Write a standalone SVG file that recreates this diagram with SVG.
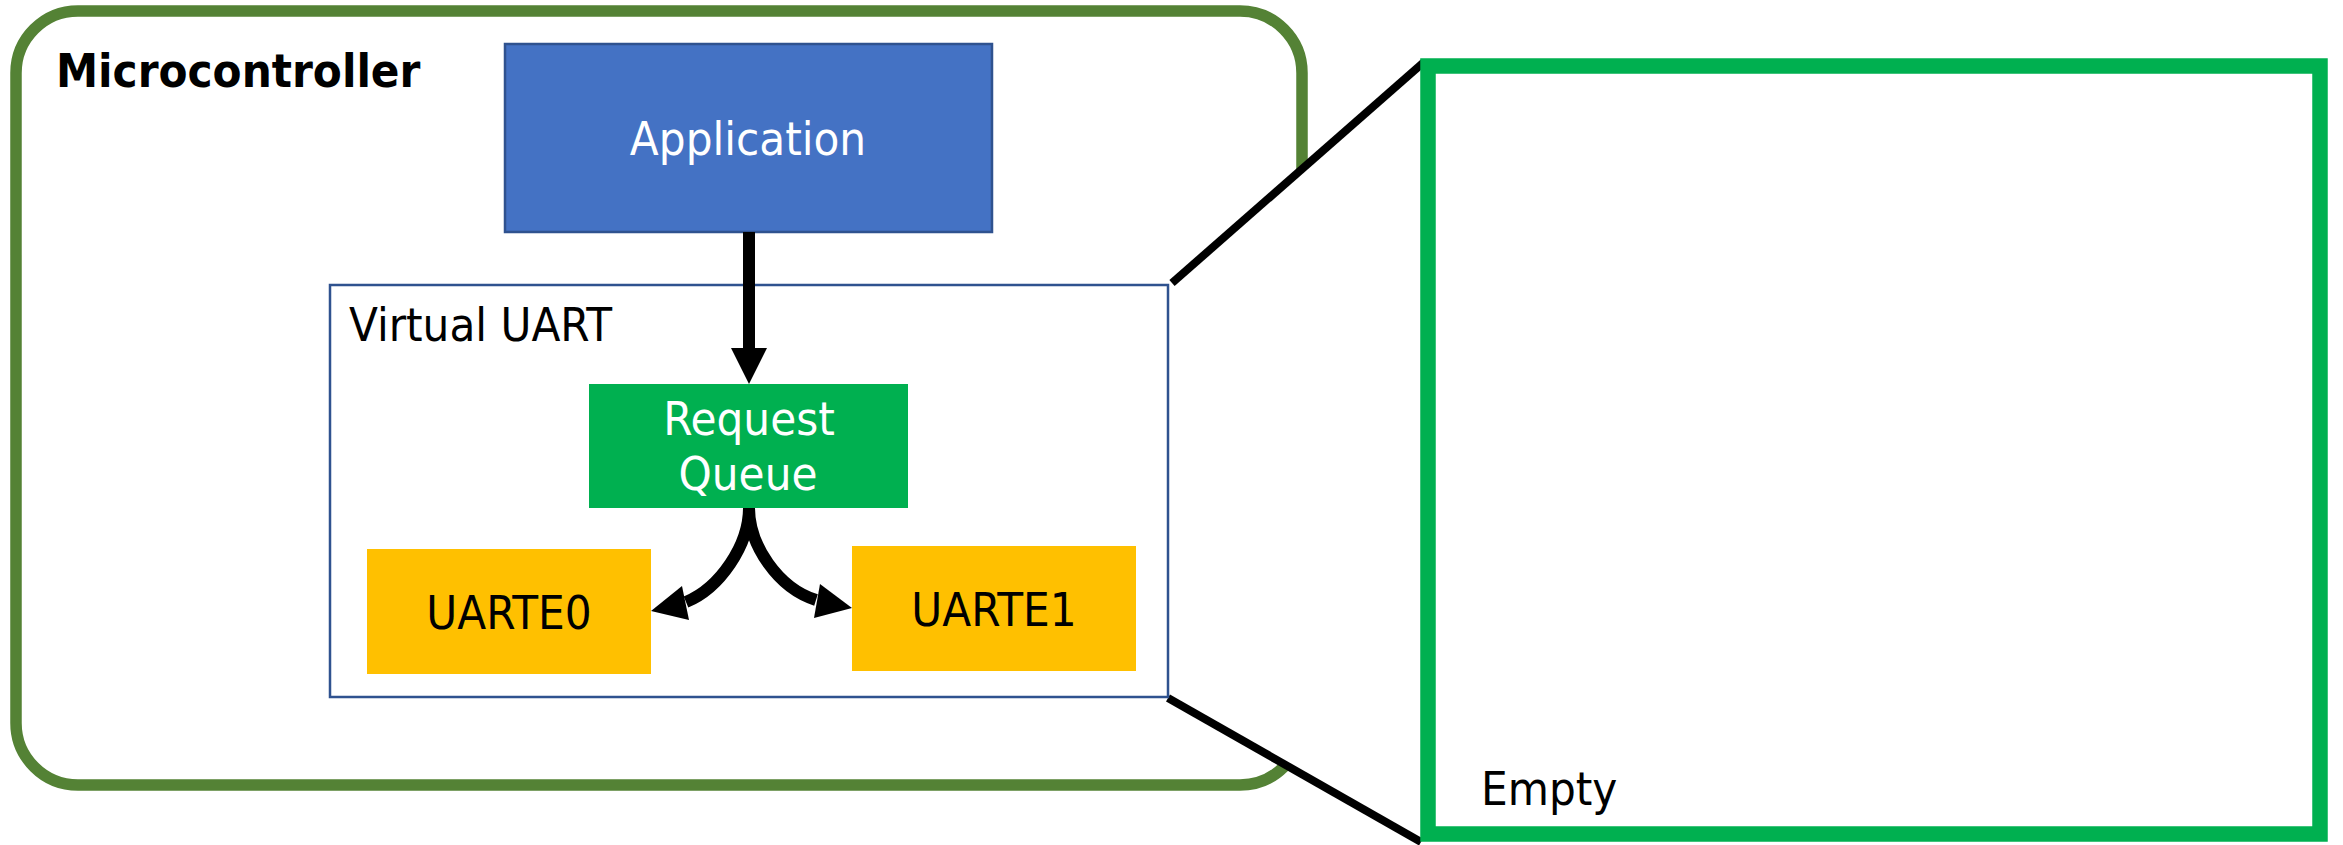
<svg xmlns="http://www.w3.org/2000/svg" width="2343" height="845" viewBox="0 0 2343 845">
  <style>
    .t { font-family: "DejaVu Sans Condensed", "DejaVu Sans", Verdana, sans-serif; font-size: 47px; }
    .w { fill: #FFFFFF; }
    .k { fill: #000000; }
    .c { text-anchor: middle; }
    .conn { fill: none; stroke: #000000; stroke-width: 12; }
    .zoom { fill: none; stroke: #000000; stroke-width: 8; }
  </style>
  <defs>
    <marker id="arrow" viewBox="0 0 3 3" refX="0" refY="1.5" markerWidth="3" markerHeight="3" markerUnits="strokeWidth" orient="auto">
      <path d="M0,0 L3,1.5 L0,3 Z" fill="#000000"/>
    </marker>
  </defs>
  <rect width="2343" height="845" fill="#FFFFFF"/>

  <g id="microcontroller">
    <rect x="16" y="11" width="1286" height="774" rx="62" ry="62" fill="#FFFFFF" stroke="#548235" stroke-width="11.5"/>
    <text class="t k" x="56" y="87" font-weight="bold">Microcontroller</text>
  </g>

  <g id="zoom-lens">
    <polygon points="1172,283 1424,62 1422,842 1168,698" fill="#FFFFFF"/>
    <line class="zoom" x1="1172" y1="283" x2="1424" y2="62"/>
    <line class="zoom" x1="1168" y1="698" x2="1421" y2="842"/>
  </g>

  <g id="application">
    <rect x="505" y="44" width="487" height="188" fill="#4472C4" stroke="#2F528F" stroke-width="2.5"/>
    <text class="t w c" x="748" y="155">Application</text>
  </g>

  <g id="virtual-uart">
    <rect x="330" y="285" width="838" height="412" fill="#FFFFFF" stroke="#2F528F" stroke-width="2.5"/>
    <text class="t k" x="349" y="341">Virtual UART</text>
  </g>

  <g id="request-queue">
    <rect x="589" y="384" width="319" height="124" fill="#00B050"/>
    <text class="t w c" x="749" y="435">Request</text>
    <text class="t w c" x="748" y="490">Queue</text>
  </g>

  <g id="uarte0">
    <rect x="367" y="549" width="284" height="125" fill="#FFC000"/>
    <text class="t k c" x="509" y="629">UARTE0</text>
  </g>

  <g id="uarte1">
    <rect x="852" y="546" width="284" height="125" fill="#FFC000"/>
    <text class="t k c" x="994" y="626">UARTE1</text>
  </g>

  <g id="empty">
    <rect x="1428" y="66" width="892" height="768" fill="none" stroke="#00B050" stroke-width="15.5"/>
    <text class="t k" x="1481" y="805">Empty</text>
  </g>

  <g id="connectors">
    <line class="conn" x1="749" y1="232" x2="749" y2="349"/>
    <polygon points="731,348 767,348 749,384" fill="#000000"/>
    <path class="conn" d="M749,508 C749,545 720,588 686,602"/>
    <polygon points="651,611 682,586 689,620" fill="#000000"/>
    <path class="conn" d="M749,508 C749,545 778,588 816,600"/>
    <polygon points="852,608 820,584 814,618" fill="#000000"/>
  </g>
</svg>
